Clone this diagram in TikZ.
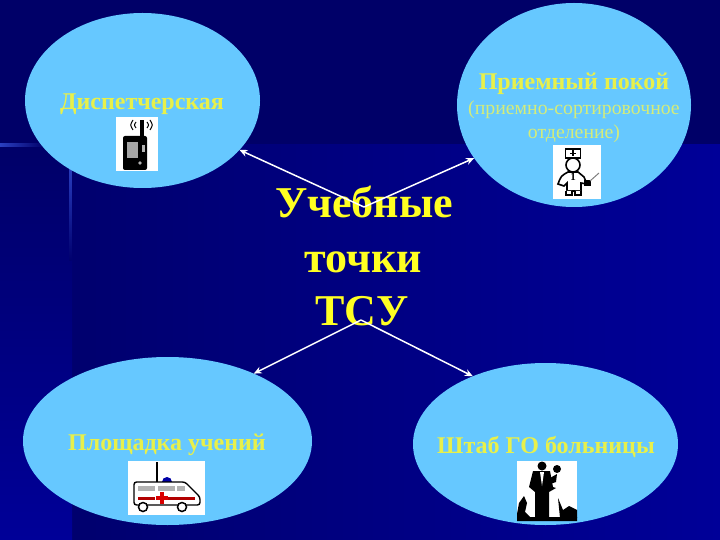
\documentclass[tikz,border=0pt]{standalone}
\usepackage{fontspec}
\setmainfont{Liberation Serif}
\usetikzlibrary{shapes.geometric,arrows.meta}
\definecolor{navyD}{HTML}{000068}
\definecolor{navyM}{HTML}{00006E}
\definecolor{navyL}{HTML}{000098}
\definecolor{edgeL}{HTML}{2A3FC0}
\definecolor{bubble}{HTML}{66C8FF}
\definecolor{txtY}{HTML}{E8F04A}
\definecolor{txtP}{HTML}{D4EC7A}
\definecolor{hubY}{HTML}{FFFF22}
\tikzset{
  bub/.style={ellipse,fill=bubble,draw=none,inner sep=0pt,outer sep=0pt},
  lab/.style={text=txtY,font=\bfseries\fontsize{24}{28}\selectfont,inner sep=0pt,anchor=base},
  sublab/.style={text=txtP,font=\fontsize{19.8}{22}\selectfont,inner sep=0pt,anchor=base},
  hub/.style={text=hubY,font=\bfseries\fontsize{44}{54}\selectfont,inner sep=0pt,anchor=base},
  link/.style={draw=white,line width=1.5pt,-{Stealth[length=8pt,width=7pt]}}
}
\begin{document}
\begin{tikzpicture}[x=1pt,y=-1pt]
\useasboundingbox (0,0) rectangle (720,540);
% background
\fill[navyD] (0,0) rectangle (720,145);
\shade[left color=navyM,right color=navyL] (72,145) rectangle (720,540);
\shade[top color=navyD,bottom color=navyL] (0,145) rectangle (72,540);
\shade[left color=edgeL,right color=navyD] (0,144) rectangle (45,147);
\shade[top color=edgeL,bottom color=navyM] (69,165) rectangle (71.5,260);
% ellipses
\node[bub,minimum width=235pt,minimum height=175pt] (tl) at (142.5,100.5) {};
\node[bub,minimum width=234pt,minimum height=204pt] (tr) at (574,105) {};
\node[bub,minimum width=289pt,minimum height=168pt] (bl) at (167.5,441) {};
\node[bub,minimum width=265pt,minimum height=162pt] (br) at (545.5,444) {};
% labels
\node[lab] (tlt) at (142,110) {Диспетчерская};
\node[lab] (trt) at (574,90) {Приемный покой};
\node[sublab] (trs) at (574,115) {(приемно-сортировочное};
\node[sublab] (trs2) at (574,139) {отделение)};
\node[lab] (blt) at (167,450) {Площадка учений};
\node[lab] (brt) at (546,453) {Штаб ГО больницы};
% hub
\node[hub] (hubA) at (364,218) {Учебные};
\node[hub] (hubB) at (363,272) {точки};
\node[hub] (hubC) at (362,325) {ТСУ};
\coordinate (hT) at (364,207);
\coordinate (hB) at (361,320);
\draw[link] (hT) -- (tl.-27);
\draw[link] (hT) -- (tr.208);
\draw[link] (hB) -- (bl.38);
\draw[link] (hB) -- (br.137);
% radio icon
\fill[white] (116,117) rectangle (158,171);
\fill[black,rounded corners=2pt] (123,136) rectangle (147,170);
\fill[black] (140,120) rectangle (143.5,137);
\fill[gray!70] (127,142) rectangle (138,158);
\fill[gray!60] (142,145) rectangle (145,152);
\fill[gray!60] (140,163) circle (1.8);
\draw[black,line width=1pt] (133,120) .. controls (130,125) .. (133,130);
\draw[black,line width=1pt] (136,122) .. controls (134,125) .. (136,128);
\draw[black,line width=1pt] (150,120) .. controls (153,125) .. (150,130);
\draw[black,line width=1pt] (147,122) .. controls (149,125) .. (147,128);
% doctor icon
\fill[white] (553,145) rectangle (601,199);
\draw[black,line width=1.6pt,fill=white] (565.5,149) rectangle (580.5,158);
\draw[black,line width=1.8pt] (573,150.5) -- (573,156.5) (570,153.5) -- (576,153.5);
\draw[black,line width=1.6pt,fill=white] (573,165) circle (7);
\draw[black,line width=1.6pt,fill=white] (568,172) .. controls (561,176) .. (558,184) -- (564,186) -- (567,183) -- (567,191) -- (581,191) -- (581,183) -- (587,184) -- (584,177) -- (578,172) -- cycle;
\draw[black,line width=1.6pt,fill=white] (566,191) -- (566,195) -- (572,195) -- (572,191) (575,191) -- (575,195) -- (581,195) -- (581,191);
\fill[black] (584,180) rectangle (591,186);
\draw[gray,line width=1pt] (590,181) -- (599,173);
\node[text=black,font=\bfseries\fontsize{11}{11}\selectfont,inner sep=0pt] (docn) at (573,177) {1};
% ambulance icon
\fill[white] (127.6,461) rectangle (205,515);
\draw[black,line width=1.2pt] (157,462) -- (157,482);
\fill[blue!65!black] (162,482) arc[start angle=180,end angle=0,radius=5pt] -- cycle;
\draw[black,line width=1.4pt,fill=white,rounded corners=2.5pt] (134,482) -- (185,482) -- (200,497) -- (200,505) -- (134,505) -- cycle;
\fill[gray!60] (138,486) rectangle (155,491);
\fill[gray!60] (158,486) rectangle (175,491);
\fill[gray!60] (177,486) rectangle (185,491);
\fill[red!70!black] (138,497) rectangle (155,500);
\fill[red!70!black] (167,497) rectangle (195,500);
\fill[red!85!black] (160,492) rectangle (164,504);
\fill[red!85!black] (156,496) rectangle (168,500);
\draw[black,line width=1.5pt,fill=white] (143,507) circle (4.5);
\draw[black,line width=1.5pt,fill=white] (182,507) circle (4.5);
% silhouette icon
\fill[white] (517,461) rectangle (577,521);
\fill[black] (542,466) circle (4.5);
\fill[black] (533,471) -- (550,471) -- (553,487) -- (556,488) -- (549,492) -- (549,518) -- (535,518) -- (535,492) -- (529,487) -- cycle;
\fill[white] (540,472) -- (544,472) -- (542,486) -- cycle;
\fill[black] (557,469) circle (4);
\fill[black] (550,478) -- (557,474) -- (556,482) -- (550,484) -- cycle;
\fill[black] (517,521) -- (517,514) -- (519,503) -- (524,496) -- (527,503) -- (525,512) -- (530,517) -- (577,517) -- (577,521) -- cycle;
\fill[black] (558,498) -- (563,510) -- (569,506) -- (577,510) -- (577,518) -- (560,518) -- cycle;
\end{tikzpicture}
\end{document}
